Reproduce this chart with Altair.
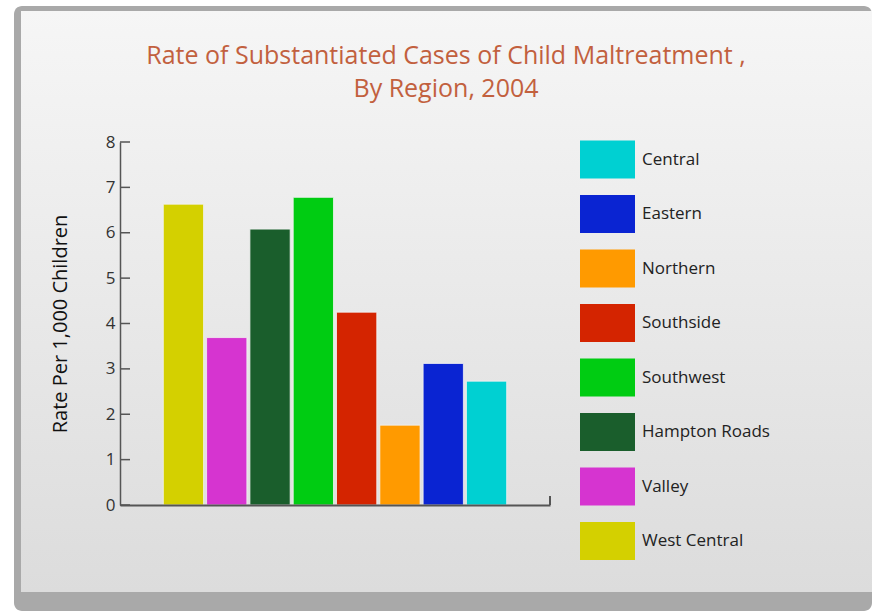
import altair as alt
import pandas as pd

# ---- data ----
regions = ["West Central", "Valley", "Hampton Roads", "Southwest",
           "Southside", "Northern", "Eastern", "Central"]
rates = [6.63, 3.69, 6.08, 6.78, 4.25, 1.76, 3.12, 2.73]
legend_order = ["Central", "Eastern", "Northern", "Southside",
                "Southwest", "Hampton Roads", "Valley", "West Central"]
legend_colors = ["#00d0d2", "#0a24d2", "#ff9a00", "#d42400",
                 "#00cc12", "#1a5e2c", "#d634d0", "#d4d000"]
y_ticks = [0, 1, 2, 3, 4, 5, 6, 7, 8]

W, H = 430, 363
FONT = "Open Sans"

df = pd.DataFrame({"Region": regions, "Rate": rates})
ticks_df = pd.DataFrame({"Rate": y_ticks})
one = alt.Data(values=[{"k": 1}])

# decorative panel behind the chart
outer = alt.Chart(one).mark_rect(color="#a9a9a9", cornerRadius=8).encode(
    x=alt.value(-106), x2=alt.value(752), y=alt.value(-136), y2=alt.value(469)
)
inner = alt.Chart(one).mark_rect(
    color=alt.LinearGradient(
        gradient="linear",
        stops=[alt.GradientStop(color="#f6f6f6", offset=0),
               alt.GradientStop(color="#dcdcdc", offset=1)],
        x1=0, x2=0, y1=0, y2=1,
    )
).encode(
    x=alt.value(-99), x2=alt.value(752), y=alt.value(-131), y2=alt.value(450)
)

yscale = alt.Scale(domain=[0, 8])
yaxis = alt.Axis(values=y_ticks, title="Rate Per 1,000 Children",
                 ticks=False, grid=False, zindex=1,
                 domainColor="#555555",
                 domainWidth=1.5, labelFontSize=17, labelColor="#333333",
                 labelPadding=5, labelFont=FONT,
                 titleFont=FONT, titleFontSize=20,
                 titleFontWeight="normal", titleColor="#111111",
                 titlePadding=35)

bars = alt.Chart(df).mark_bar(stroke="#f2f2f2", strokeWidth=0.8).encode(
    x=alt.X("Region:N", sort=regions,
            scale=alt.Scale(paddingInner=0.07, paddingOuter=1),
            axis=alt.Axis(title=None, labels=False, ticks=False, zindex=1,
                          domainColor="#555555", domainWidth=2)),
    y=alt.Y("Rate:Q", scale=yscale, axis=yaxis),
    color=alt.Color("Region:N",
                    scale=alt.Scale(domain=legend_order, range=legend_colors),
                    legend=alt.Legend(title=None, orient="none",
                                      legendX=460, legendY=-10,
                                      symbolType="M-1,-0.69H1V0.69H-1Z",
                                      symbolSize=3025, symbolStrokeWidth=0,
                                      symbolOpacity=1,
                                      labelFont=FONT, labelFontSize=17,
                                      labelColor="#222222", labelOffset=7,
                                      rowPadding=7.5, padding=0)),
)

tick_rules = alt.Chart(ticks_df).mark_rule(color="#555555", strokeWidth=1.5).encode(
    y=alt.Y("Rate:Q", scale=yscale, axis=yaxis),
    x=alt.value(0), x2=alt.value(10),
)

end_tick = alt.Chart(one).mark_rule(color="#555555", strokeWidth=2).encode(
    x=alt.value(W), y=alt.value(H - 9), y2=alt.value(H)
)

chart = alt.layer(outer, inner, bars, tick_rules, end_tick).properties(
    width=W, height=H,
    autosize="none",
    padding={"left": 120, "top": 142, "right": 322, "bottom": 106},
    title=alt.Title(
        ["Rate of Substantiated Cases of Child Maltreatment ,", "By Region, 2004"],
        font=FONT, fontSize=25, fontWeight="normal", color="#c2603e",
        anchor="middle", dx=111, offset=0, dy=96, lineHeight=33, zindex=1,
    ),
).configure(background="white").configure_view(stroke="transparent")

chart.save("out.html", embed_options={"renderer": "svg", "actions": False})
